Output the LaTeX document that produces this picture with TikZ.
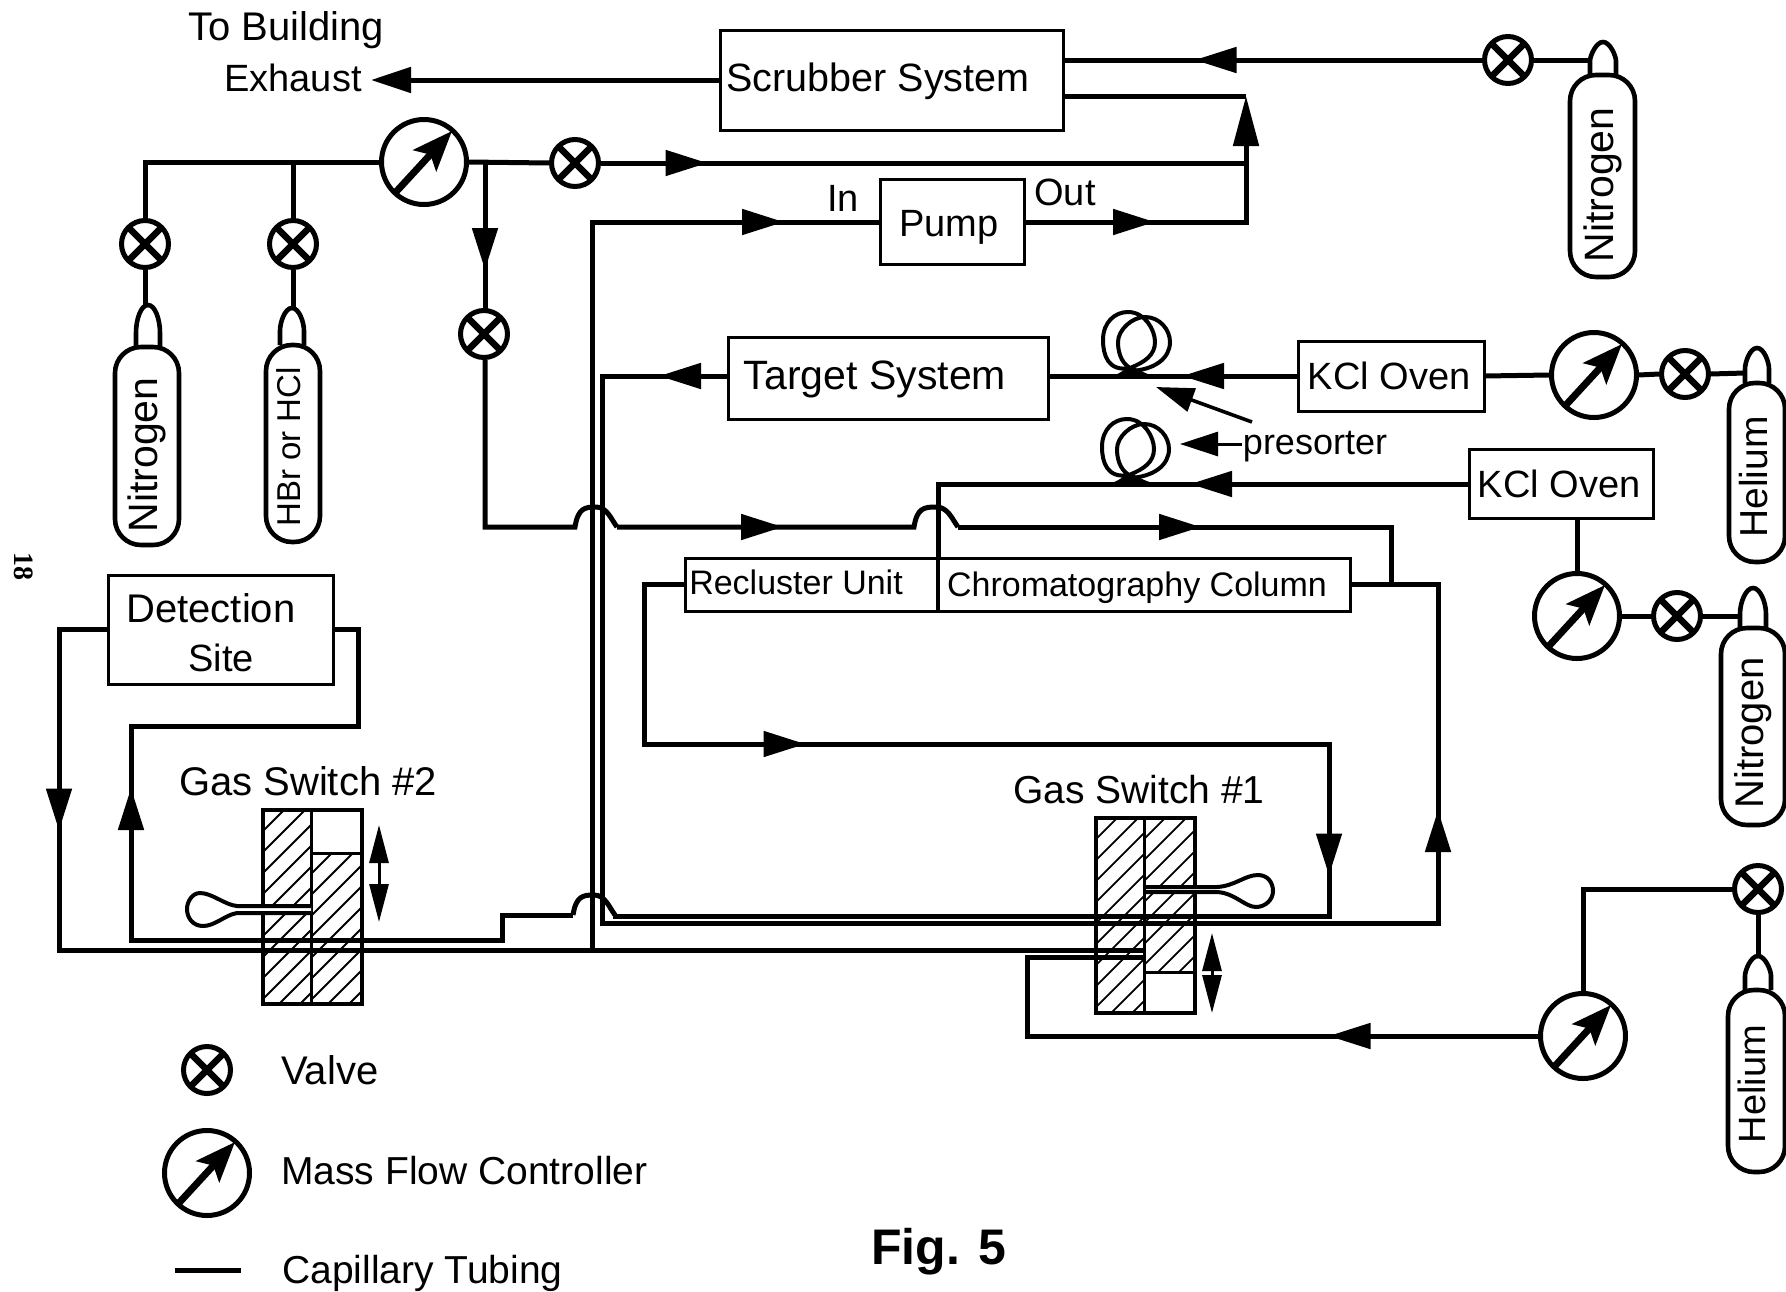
\documentclass[tikz,border=0pt]{standalone}
\usepackage{fontspec}
\setmainfont{Liberation Sans}
\newfontfamily\serifnum{Liberation Serif}
\usetikzlibrary{arrows.meta,calc,decorations.markings}
\newcommand\fs[1]{\fontsize{#1}{#1}\selectfont}
\tikzset{
  flowtip/.tip={Triangle[length=42pt,width=25pt]},
  conn/.style={line width=5pt,line join=miter,line cap=butt},
  thin conn/.style={line width=3.5pt},
  flow/.style={postaction={decorate,decoration={markings,mark=at position #1pt with {\arrow{flowtip}}}}},
  box/.style={draw,line width=3pt,inner sep=0pt,outer sep=0pt,font=\fs{38}},
  txt/.style={inner sep=0pt,font=\fs{38}},
  cyl/.style={draw,line width=4.6pt,rounded corners=26pt,inner sep=0pt,outer sep=0pt,fill=white},
  cyltxt/.style={inner sep=0pt,rotate=90,anchor=base},
  valve/.style={circle,draw,line width=5pt,minimum size=47pt,inner sep=0pt,outer sep=2pt,fill=white,
    path picture={\draw[line width=6.5pt]
      (path picture bounding box.north west)--(path picture bounding box.south east)
      (path picture bounding box.north east)--(path picture bounding box.south west);}},
  mfc/.style={circle,draw,line width=5pt,minimum size=85pt,inner sep=0pt,outer sep=2pt,fill=white,
    path picture={\draw[line width=7pt,-{Stealth[length=40pt,width=31pt,inset=8pt]}]
      ([shift={(-29,31)}]path picture bounding box.center)--([shift={(28,-31)}]path picture bounding box.center);}},
  bumpto/.style={to path={.. controls ($(\tikztostart)+(3,-19)$) and ($(\tikztostart)+(10,-20)$) .. ($(\tikztostart)!.5!(\tikztotarget)+(0,-20)$) .. controls ($(\tikztotarget)+(-10,-20)$) and ($(\tikztotarget)+(-6,-8)$) .. (\tikztotarget)}},
  hatchline/.style={line width=1.8pt},
  twoway/.style={line width=3pt,{Triangle[length=38pt,width=19pt]}-{Triangle[length=38pt,width=19pt]}},
}
% nozzle: centre x, half width, top y, bottom y
\newcommand\nozzle[4]{\draw[line width=4.6pt] (#1-#2,#4) -- (#1-#2,#4-14) .. controls (#1-#2,#3+14) and (#1-7,#3) .. (#1,#3) .. controls (#1+7,#3) and (#1+#2,#3+14) .. (#1+#2,#4-14) -- (#1+#2,#4);}
% hatched rectangle x1 y1 x2 y2
\newcommand\hatchbox[4]{\begin{scope}\clip (#1,#2) rectangle (#3,#4);
  \foreach \c in {0,21,...,336}{\draw[hatchline] (#1+\c+300,#2-300) -- (#1+\c-300,#2+300);}\end{scope}}
\newcommand\coil{\draw[line width=4pt]
   (1130,368) .. controls (1108,372) and (1103,355) .. (1103,340) .. controls (1103,322) and (1115,312) .. (1128,312) .. controls (1145,312) and (1155,330) .. (1155,342) .. controls (1155,355) and (1145,362) .. (1130,368)
   (1130,368) .. controls (1120,362) and (1118,350) .. (1118,342) .. controls (1118,330) and (1132,317) .. (1145,317) .. controls (1160,317) and (1170,330) .. (1170,342) .. controls (1170,358) and (1155,370) .. (1130,371);
   \fill (1108,377) .. controls (1120,375) and (1125,368) .. (1131,366) .. controls (1137,368) and (1142,373) .. (1157,377) -- cycle;}
\begin{document}
\begin{tikzpicture}[x=1pt,y=-1pt]
\useasboundingbox (0,0) rectangle (1786,1291);

%----- hatching of the gas switches
\hatchbox{1096}{818}{1144}{1013}
\hatchbox{1144}{818}{1195}{972}
\hatchbox{263}{810}{311}{1004}
\hatchbox{311}{853}{362}{1004}
\draw[line width=4pt] (1096,818) rectangle (1195,1013);
\draw[line width=3pt] (1144,818) -- (1144,1013) (1144,972) -- (1195,972);
\draw[line width=4pt] (263,810) rectangle (362,1004);
\draw[line width=3pt] (311,810) -- (311,1004) (311,853) -- (362,853);
\draw[line width=4pt,fill=white] (1146,887) -- (1217,887) .. controls (1235,886) and (1245,875) .. (1258,875) .. controls (1268,875) and (1273,883) .. (1273,891) .. controls (1273,900) and (1265,907) .. (1256,907) .. controls (1245,907) and (1235,893) .. (1217,892) -- (1146,892);
\draw[line width=4pt,fill=white] (311,906) -- (237,906) .. controls (225,905) and (212,893) .. (200,893) .. controls (192,893) and (187,902) .. (187,909) .. controls (187,918) and (193,926) .. (203,926) .. controls (215,926) and (225,915) .. (237,913) -- (311,913);

%----- boxes
\node[box,minimum width=343pt,minimum height=100pt] (scrub) at (891.5,80) {};
\node[txt,font=\fs{39.5}] (scrubt) at (878,81) {Scrubber System};
\node[box,minimum width=144pt,minimum height=85pt] (pump) at (952,222) {};
\node[txt] (pumpt) at (949,227) {Pump};
\node[box,minimum width=320pt,minimum height=82pt] (target) at (888,378) {};
\node[txt,font=\fs{41}] (targett) at (875,379) {Target System};
\node[box,minimum width=186pt,minimum height=70pt] (oven1) at (1391,376) {KCl Oven\hspace*{4pt}};
\node[box,minimum width=184pt,minimum height=69pt] (oven2) at (1561,484) {KCl Oven\hspace*{4pt}};
\node[box,minimum width=253pt,minimum height=53pt] (recl) at (811.5,584.5) {};
\node[txt,font=\fs{34}] (reclt) at (796,582) {Recluster Unit};
\node[box,minimum width=412pt,minimum height=53pt] (chrom) at (1144,584.5) {};
\node[txt,font=\fs{34}] (chromt) at (1137,588) {Chromatography Column};
\node[box,minimum width=225pt,minimum height=109pt] (detect) at (220.5,629.5) {};
\node[txt,font=\fs{40}] (detect1) at (211,608) {Detection};
\node[txt] (detect2) at (221,658) {Site};

%----- valves and controllers
\node[mfc] (mfc1) at (424,162) {};
\node[valve] (v1) at (145,244) {};
\node[valve] (v2) at (293,244) {};
\node[valve] (v3) at (484,334) {};
\node[valve] (v4) at (575,163) {};
\node[valve] (vt) at (1508,60) {};
\node[mfc] (mfc2) at (1594,375) {};
\node[valve] (v5) at (1685,374) {};
\node[mfc] (mfc3) at (1577,616) {};
\node[valve] (v6) at (1677,616) {};
\node[mfc] (mfc4) at (1583,1036) {};
\node[valve] (v7) at (1758,889) {};

%----- cylinders
\nozzle{148}{12}{305}{347}
\nozzle{292}{12}{308}{345}
\nozzle{1603}{13}{42}{75}
\nozzle{1757}{12}{348}{383}
\nozzle{1753}{13}{588}{628}
\nozzle{1758}{13}{956}{990}
\node[cyl,minimum width=64pt,minimum height=198pt] (c1) at (147,446) {};
\node[cyl,minimum width=54pt,minimum height=197pt] (c2) at (293,443.5) {};
\node[cyl,minimum width=65pt,minimum height=202pt] (c3) at (1602.5,176) {};
\node[cyl,minimum width=56pt,minimum height=179pt] (c4) at (1757,472.5) {};
\node[cyl,minimum width=64pt,minimum height=197pt] (c5) at (1753,726.5) {};
\node[cyl,minimum width=57pt,minimum height=182pt] (c6) at (1756.5,1081) {};
\node[cyltxt,font=\fs{41}] (c1t) at (157,455) {Nitrogen};
\node[cyltxt,font=\fs{33}] (c2t) at (300,447) {HBr or HCl};
\node[cyltxt,font=\fs{41}] (c3t) at (1613,185) {Nitrogen};
\node[cyltxt,font=\fs{39}] (c4t) at (1767,477) {Helium};
\node[cyltxt,font=\fs{40}] (c5t) at (1763,733) {Nitrogen};
\node[cyltxt,font=\fs{38}] (c6t) at (1765,1084) {Helium};

%----- named points of the tubing
\coordinate (exh) at (371,80);
\coordinate (s1) at (1063,96);
\coordinate (j1) at (1246,96);
\coordinate (j2) at (1246,222);
\coordinate (j3) at (1246,163);
\coordinate (dj) at (485,162);
\coordinate (b1a) at (575,527);
\coordinate (b1b) at (617,527);
\coordinate (b2a) at (914,527);
\coordinate (b2b) at (958,527);
\coordinate (cc) at (1391,584.5);
\coordinate (t1) at (602,376);
\coordinate (t2) at (602,923);
\coordinate (t3) at (1438,923);
\coordinate (o2c) at (938,484);
\coordinate (r1) at (644,584.5);
\coordinate (r2) at (644,744);
\coordinate (r3) at (1329,744);
\coordinate (r4) at (1329,916);
\coordinate (b3a) at (573,915);
\coordinate (b3b) at (615,915);
\coordinate (st1) at (502,915);
\coordinate (st2) at (502,940);
\coordinate (d1) at (131,940);
\coordinate (d2) at (131,726);
\coordinate (d3) at (358,726);
\coordinate (d4) at (358,629.5);
\coordinate (e1) at (59,629.5);
\coordinate (e2) at (59,950);
\coordinate (e3) at (1144,950);
\coordinate (p1) at (592,950);
\coordinate (p2) at (592,222);
\coordinate (m1) at (1027,1036);
\coordinate (m2) at (1027,957);
\coordinate (m3) at (1144,957);
\coordinate (nt) at (1590,60);
\coordinate (n5) at (1745,373);
\coordinate (n6) at (1740,616);
\coordinate (n1) at (145,305);
\coordinate (n2) at (293,308);
\coordinate (n7) at (1758,956);
\coordinate (pres1) at (1156,387);
\coordinate (pres2) at (1252,422);
\coordinate (pres3) at (1180,444);
\coordinate (pres4) at (1242,444);

%----- tubing
\draw[conn,-{Triangle[length=40pt,width=25pt]}] (scrub.west) -- (exh);
\draw[conn,flow=288] (vt.west) -- (vt.west -| scrub.east);
\draw[conn] (vt.east) -- (nt);
\draw[conn] (s1) -- (j1);
\draw[conn,flow=131,-{Triangle[length=50pt,width=25pt]}] (pump.east) -- (j2) -- (j1);
\draw[conn,flow=107] (v4.east) -- (j3);
\draw[conn] (mfc1.east) -- (v4.west);
\draw[conn] (mfc1.west) -| (v1.north);
\draw[conn] (v2.north) |- (mfc1.west);
\draw[conn] (v1.south) -- (n1);
\draw[conn] (v2.south) -- (n2);
\draw[conn,flow=108] (dj) -- (dj |- v3.north);
\draw[conn] (dj |- v3.south) |- (b1a) to[bumpto] (b1b);
\draw[conn,flow=166] (b1b) -- (b2a) to[bumpto] (b2b);
\draw[conn,flow=243] (b2b) -| (cc);
% oven lines
\draw[conn,flow=116] (oven1.west) -- (oven1.west -| target.east);
\draw[conn,flow=279] (oven2.west) -- (o2c) -- (recl.north east);
\draw[thin conn] (recl.north east) -- (recl.south east);
\coil
\begin{scope}[shift={(-1,107)}]\coil\end{scope}
% target to column through switch #1
\draw[conn,flow=69,flow=1622] (target.west |- t1) -- (t1) -- (t2) -- (t3) |- (chrom.east);
% recluster to switch #1 and on
\draw[conn,flow=362,flow=1017] (recl.west) -- (r1) -- (r2) -- (r3) -- (r4) -- (r4 -| b3b) -- (b3b);
\draw[conn] (b3a) to[bumpto] (b3b);
\draw[conn,flow=619] (b3a) -- (st1) -- (st2) -- (d1) -- (d2) -- (d3) -- (d4) -- (detect.east);
\draw[conn,flow=250] (detect.west) -- (e1) -- (e2) -- (e3);
\draw[conn,flow=920] (p1) -- (p2) -- (pump.west);
\draw[conn,flow=210] (mfc4.west) -- (m1) -- (m2) -- (m3);
% right hand gas lines
\draw[conn] (oven1.east) -- (mfc2.west);
\draw[conn] (mfc2.east) -- (v5.west);
\draw[conn] (v5.east) -- (n5);
\draw[conn] (oven2.south -| mfc3.north) -- (mfc3.north);
\draw[conn] (mfc3.east) -- (v6.west);
\draw[conn] (v6.east) -- (n6);
\draw[conn] (mfc4.north) |- (v7.west);
\draw[conn] (v7.south) -- (n7);
% presorter pointers
\draw[line width=3.6pt,-{Triangle[length=38pt,width=24pt]}] (pres2) -- (pres1);
\draw[line width=3pt,-{Triangle[length=38pt,width=24pt]}] (pres4) -- (pres3);
% two way arrows
\coordinate (a1) at (1212,933);
\coordinate (a2) at (1212,1013);
\coordinate (a3) at (379,825);
\coordinate (a4) at (379,922);
\draw[twoway] (a1) -- (a2);
\draw[twoway] (a3) -- (a4);

%----- labels
\node[txt,font=\fs{40}] (l1) at (286,30) {To Building};
\node[txt] (l2) at (293,78) {Exhaust};
\node[txt] (l3) at (843,198) {In};
\node[txt] (l4) at (1065,192) {Out};
\node[txt,font=\fs{36}] (l5) at (1315,447) {presorter};
\node[txt,font=\fs{40}] (l6) at (308,781) {Gas Switch \#2};
\node[txt,font=\fs{39}] (l7) at (1139,790) {Gas Switch \#1};
\node[inner sep=0pt,rotate=-90,font=\serifnum\fs{28}\bfseries] (page) at (24,566) {18};

%----- legend
\node[valve] (lv) at (207,1070) {};
\node[mfc] (lm) at (207,1173) {};
\coordinate (ll1) at (175,1270);
\coordinate (ll2) at (241,1270);
\draw[conn] (ll1) -- (ll2);
\node[txt,anchor=west,font=\fs{40}] (lt1) at (281,1070) {Valve};
\node[txt,anchor=west,font=\fs{39}] (lt2) at (281,1171) {Mass Flow Controller};
\node[txt,anchor=west,font=\fs{39}] (lt3) at (282,1273) {Capillary Tubing};
\node[txt,font=\fs{50}\bfseries] (fig) at (939,1252) {Fig. 5};
\end{tikzpicture}
\end{document}
